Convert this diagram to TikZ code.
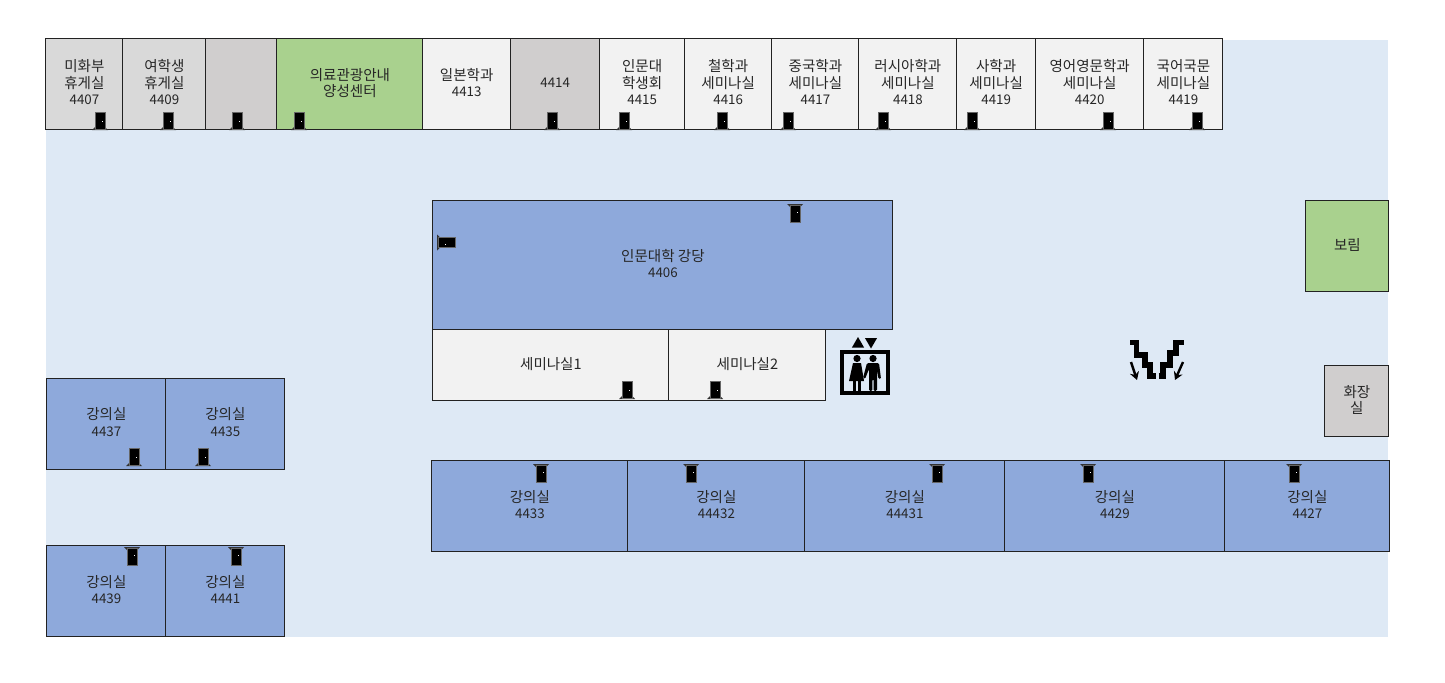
\documentclass[tikz,border=0pt]{standalone}
\usepackage{fontspec}
\setmainfont{Noto Sans CJK KR}
\usetikzlibrary{
    arrows.meta,% stairs arrows
    shapes.geometric% lift triangles
}

\definecolor{floorblue}{HTML}{DEE9F5}
\definecolor{roomblue}{HTML}{8EA9DB}
\definecolor{roomgreen}{HTML}{A9D18E}
\definecolor{roomwhite}{HTML}{F2F2F2}
\definecolor{roomgray}{HTML}{D9D9D9}
\definecolor{roomdark}{HTML}{D0CECE}
\definecolor{wallcolor}{HTML}{222222}

\newcommand{\rn}[1]{{\fontsize{10}{12.4}\selectfont #1}}

\tikzset{
    x=0.75pt, y=-0.75pt,
    room/.style 2 args={draw=wallcolor, line width=0.8pt, anchor=north west,
        inner sep=0pt, outer sep=0pt, align=center, text=black!85, text depth=3pt,
        font=\fontsize{10.9}{12.4}\selectfont,
        minimum width=#1*0.75pt, minimum height=#2*0.75pt},
    door/.pic={
        \fill[black!80] (-8,0) -- (-5,-3) -- (5,-3) -- (8,0) -- cycle;
        \fill[black, draw=black!60, line width=0.6pt] (-5,-1) rectangle (5,-18);
        \fill[white] (1.5,-8) rectangle (2.5,-9);
    },
}

\begin{document}
\begin{tikzpicture}
    \useasboundingbox (0,0) rectangle (1445,682);
    \fill[floorblue] (46,40) rectangle (1388,637);

    %%% top row
    \node[room={77}{91}, fill=roomgray] (r4407) at (45.9,38.9) {미화부\\휴게실\\\rn{4407}};
    \node[room={83}{91}, fill=roomgray] (r4409) at (122.9,38.9) {여학생\\휴게실\\\rn{4409}};
    \node[room={71}{91}, fill=roomdark] (rblank) at (205.9,38.9) {};
    \node[room={146}{91}, fill=roomgreen] (rcenter) at (276.9,38.9) {의료관광안내\\양성센터};
    \node[room={87.5}{91}, fill=roomwhite] (r4413) at (422.9,38.9) {일본학과\\\rn{4413}};
    \node[room={89.5}{91}, fill=roomdark] (r4414) at (510.4,38.9) {\rn{4414}};
    \node[room={84.5}{91}, fill=roomwhite] (r4415) at (599.9,38.9) {인문대\\학생회\\\rn{4415}};
    \node[room={87.5}{91}, fill=roomwhite] (r4416) at (684.4,38.9) {철학과\\세미나실\\\rn{4416}};
    \node[room={87}{91}, fill=roomwhite] (r4417) at (771.9,38.9) {중국학과\\세미나실\\\rn{4417}};
    \node[room={98}{91}, fill=roomwhite] (r4418) at (858.9,38.9) {러시아학과\\세미나실\\\rn{4418}};
    \node[room={78.5}{91}, fill=roomwhite] (r4419a) at (956.9,38.9) {사학과\\세미나실\\\rn{4419}};
    \node[room={108.5}{91}, fill=roomwhite] (r4420) at (1035.4,38.9) {영어영문학과\\세미나실\\\rn{4420}};
    \node[room={79}{91}, fill=roomwhite] (r4419b) at (1143.9,38.9) {국어국문\\세미나실\\\rn{4419}};

    %%% middle block
    \node[room={460}{129}, fill=roomblue] (r4406) at (432.9,200.9) {인문대학 강당\\\rn{4406}};
    \node[room={236}{71}, fill=roomwhite] (rsemi1) at (432.9,329.9) {세미나실1};
    \node[room={157}{71}, fill=roomwhite] (rsemi2) at (668.9,329.9) {세미나실2};

    %%% right side
    \node[room={83}{91}, fill=roomgreen] (rborim) at (1305.9,200.9) {보림};
    \node[room={64}{71}, fill=roomdark] (rtoilet) at (1324.9,365.9) {화장\\실};

    %%% lecture row
    \node[room={196}{91}, fill=roomblue] (r4433) at (431.9,460.9) {강의실\\\rn{4433}};
    \node[room={177}{91}, fill=roomblue] (r44432) at (627.9,460.9) {강의실\\\rn{44432}};
    \node[room={200}{91}, fill=roomblue] (r44431) at (804.9,460.9) {강의실\\\rn{44431}};
    \node[room={220}{91}, fill=roomblue] (r4429) at (1004.9,460.9) {강의실\\\rn{4429}};
    \node[room={165}{91}, fill=roomblue] (r4427) at (1224.9,460.9) {강의실\\\rn{4427}};

    %%% left side
    \node[room={119}{91}, fill=roomblue] (r4437) at (46.9,378.4) {강의실\\\rn{4437}};
    \node[room={119}{91}, fill=roomblue] (r4435) at (165.9,378.4) {강의실\\\rn{4435}};
    \node[room={119}{91}, fill=roomblue] (r4439) at (46.9,545.9) {강의실\\\rn{4439}};
    \node[room={119}{91}, fill=roomblue] (r4441) at (165.9,545.9) {강의실\\\rn{4441}};

    %%% doors, foot down
    \foreach \x in {100,168,237,299,552,624,722,788,883,972,1108,1197}
        \pic at (\x,130) {door};
    \foreach \x in {134,203}
        \pic at (\x,466) {door};
    \foreach \x in {627,715}
        \pic at (\x,399) {door};

    %%% doors, foot up
    \foreach \x in {541,691,937,1088,1294}
        \pic[yscale=-1] at (\x,464) {door};
    \foreach \x in {132,236}
        \pic[yscale=-1] at (\x,547) {door};
    \pic[yscale=-1] at (795,204) {door};
    \pic[rotate=-90] at (437,242.5) {door};

    %%% lift
    \node[draw=black, line width=3pt, minimum width=34.5pt, minimum height=31pt,
        inner sep=0pt, outer sep=0pt] (lift) at (865,372.5) {};
    \node[fill=black, regular polygon, regular polygon sides=3, inner sep=0pt,
        minimum size=10.5pt] (liftup) at (858,344) {};
    \node[fill=black, regular polygon, regular polygon sides=3, shape border rotate=180,
        inner sep=0pt, minimum size=10.5pt] (liftdown) at (871,341.5) {};
    \fill (857,358.5) circle (3.6);
    \fill (873,358.5) circle (3.6);
    \fill (853,363) -- (861,363) -- (864,381) -- (849,381) -- cycle;
    \fill (853,380) rectangle (856,391);
    \fill (858,380) rectangle (861,391);
    \fill[rounded corners=1pt] (867,363) -- (879,363) -- (881,379) -- (878.5,379)
        -- (877,369) -- (877,391) -- (873.6,391) -- (873.6,379) -- (872.4,379)
        -- (872.4,391) -- (869,391) -- (869,369) -- (865,379) -- (863,378) -- cycle;

    %%% stairs
    \draw[line width=3.9pt, miter limit=2] (1130,342.7) -- (1136.7,342.7) -- (1136.7,355)
        -- (1145,355) -- (1145,365) -- (1150,365) -- (1150,376) -- (1156,376);
    \draw[line width=3.9pt, miter limit=2] (1158.5,376) -- (1163,376) -- (1163,365)
        -- (1170,365) -- (1170,353) -- (1176,353) -- (1176,342.7) -- (1184,342.7);
    \draw[-{Stealth[length=6pt,width=7pt]}, line width=1.8pt] (1131,362) -- (1137,380);
    \draw[-{Stealth[length=6pt,width=7pt]}, line width=1.8pt] (1183,362) -- (1175,380);
\end{tikzpicture}
\end{document}
